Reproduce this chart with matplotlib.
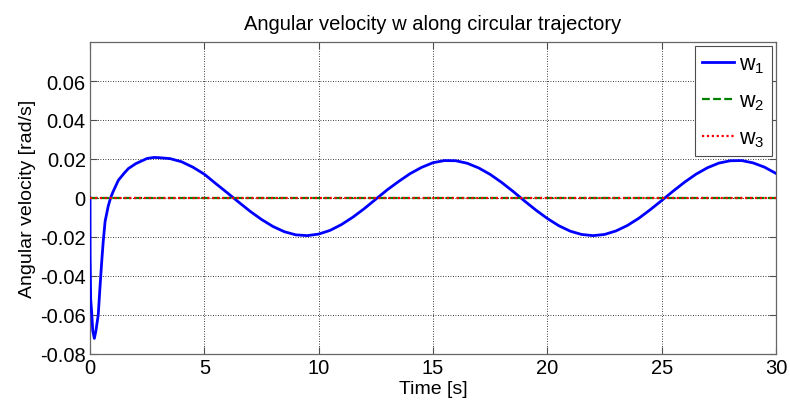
import numpy as np
import matplotlib
matplotlib.use("Agg")
import matplotlib.pyplot as plt

# datos
t = [0.0, 0.005, 0.03, 0.07, 0.12, 0.19, 0.26, 0.36, 0.43, 0.51, 0.58, 0.66,
     0.8, 0.9, 1.0, 1.24, 1.5, 1.68, 2.0, 2.11, 2.5, 2.8, 3.0, 3.5, 4.0, 4.5,
     5.0, 5.5, 6.0, 6.5, 7.0, 7.5, 8.0, 8.5, 9.0, 9.5, 10.0, 10.5, 11.0, 11.5,
     12.0, 12.5, 13.0, 13.5, 14.0, 14.5, 15.0, 15.5, 16.0, 16.5, 17.0, 17.5,
     18.0, 18.5, 19.0, 19.5, 20.0, 20.5, 21.0, 21.5, 22.0, 22.5, 23.0, 23.5,
     24.0, 24.5, 25.0, 25.5, 26.0, 26.5, 27.0, 27.5, 28.0, 28.5, 29.0, 29.5, 30.0]
w1 = [0.0, -0.030, -0.052, -0.058, -0.068, -0.072, -0.068, -0.060, -0.047,
      -0.033, -0.022, -0.012, -0.004, 0.0, 0.003, 0.0091, 0.0128, 0.0151,
      0.0176, 0.0182, 0.0203, 0.0208, 0.0207, 0.0202, 0.0186, 0.0158, 0.0122,
      0.0074, 0.0027, -0.0021, -0.0068, -0.0110, -0.0146, -0.0173, -0.0189,
      -0.0193, -0.0185, -0.0166, -0.0136, -0.0098, -0.0054, -0.0006, 0.0042,
      0.0085, 0.0125, 0.0157, 0.0181, 0.0192, 0.0191, 0.0178, 0.0154, 0.0121,
      0.0080, 0.0034, -0.0015, -0.0062, -0.0105, -0.0142, -0.0170, -0.0187,
      -0.0193, -0.0187, -0.0169, -0.0141, -0.0104, -0.0060, -0.0013, 0.0035,
      0.0081, 0.0122, 0.0155, 0.0179, 0.0191, 0.0192, 0.0180, 0.0158, 0.0126]
t_flat = [0.0, 30.0]
w2 = [0.0, 0.0]
w3 = [0.0, 0.0]

xticks = [0, 5, 10, 15, 20, 25, 30]
yticks = [-0.08, -0.06, -0.04, -0.02, 0, 0.02, 0.04, 0.06]
ytick_labels = ["-0.08", "-0.06", "-0.04", "-0.02", "0", "0.02", "0.04", "0.06"]

fontsize = 14.5
labelsize = 14
plt.rcParams['font.family'] = ['Liberation Sans', 'DejaVu Sans']
plt.rcParams['mathtext.fontset'] = 'custom'
plt.rcParams['mathtext.rm'] = 'Liberation Sans'
plt.rcParams['mathtext.it'] = 'Liberation Sans'
plt.rc('font', size=fontsize)

fig = plt.figure(figsize=(7.9, 4.06), dpi=100)
ax = fig.add_axes([90/790, 1 - 355/406, 686/790, 312/406])

ax.plot(t, w1, color="#0000ff", linewidth=2.0, label=r"w$_\mathregular{1}$", zorder=3)
ax.plot(t_flat, w2, color="#008000", linestyle=(0, (3.5, 1.5)), linewidth=1.6,
        label=r"w$_\mathregular{2}$", zorder=4)
ax.plot(t_flat, w3, color="#ff0000", linestyle=(0, (1, 1.2)), linewidth=1.6,
        label=r"w$_\mathregular{3}$", zorder=5)

ax.set_xlim(0, 30)
ax.set_ylim(-0.08, 0.08)
ax.set_xticks(xticks)
ax.set_yticks(yticks)
ax.set_yticklabels(ytick_labels)
ax.grid(True, color="black", linestyle=(0, (1, 2)), linewidth=0.6)
ax.tick_params(direction="in", top=True, right=True, length=5, color="0.3",
               labelsize=fontsize, pad=3)
for s in ax.spines.values():
    s.set_color("0.4")
    s.set_linewidth(0.9)

ax.set_title("Angular velocity w along circular trajectory", fontsize=fontsize, pad=9)
ax.set_xlabel("Time [s]", fontsize=labelsize, labelpad=2)
ax.set_ylabel("Angular velocity [rad/s]", fontsize=labelsize, labelpad=3)

leg = ax.legend(loc="upper right", fancybox=False, framealpha=1, edgecolor="0.3",
                fontsize=15.5, handlelength=1.5, borderaxespad=0.2, borderpad=0.35,
                labelspacing=0.7, handletextpad=0.2)
leg.get_frame().set_linewidth(0.8)

fig.savefig("out.png", dpi=100)
